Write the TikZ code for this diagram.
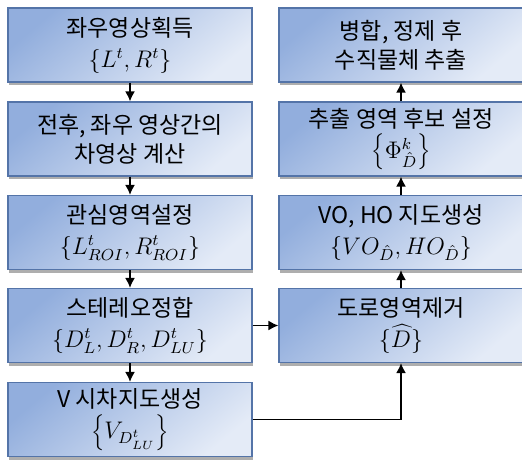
\documentclass[tikz,border=0pt]{standalone}
\usepackage[no-math]{fontspec}
\setmainfont{Noto Sans CJK KR}
\usetikzlibrary{shadows,arrows.meta}
\definecolor{boxdark}{RGB}{146,174,221}
\definecolor{boxlight}{RGB}{228,235,247}
\definecolor{boxline}{RGB}{84,116,168}
\tikzset{
  box/.style={draw=boxline, line width=0.6pt, top color=boxdark, bottom color=boxlight, shading angle=40,
    minimum width=122pt, minimum height=37pt, inner sep=0pt, align=center,
    font=\fontsize{11.5}{14.5}\selectfont,
    drop shadow={shadow xshift=0.4pt, shadow yshift=-1.6pt, opacity=0.45, fill=black!70}},
  flow/.style={line width=0.8pt, -{Latex[length=5pt,width=5pt]}}
}
\begin{document}
\begin{tikzpicture}[x=0.5pt,y=-0.5pt]
\useasboundingbox (0,0) rectangle (522,459);
\node[box] (L1) at (130,45) {좌우영상획득\\[1pt]$\{L^t,R^t\}$};
\node[box] (L2) at (130,139) {전후, 좌우 영상간의\\차영상 계산};
\node[box] (L3) at (130,232.5) {관심영역설정\\[1pt]$\{L^t_{ROI},R^t_{ROI}\}$};
\node[box] (L4) at (130,325.5) {스테레오정합\\[1pt]$\{D^t_L,D^t_R,D^t_{LU}\}$};
\node[box] (L5) at (130,419.5) {V 시차지도생성\\[1pt]$\left\{V_{D^t_{LU}}\right\}$};
\node[box] (R1) at (401,45) {병합, 정제 후\\수직물체 추출};
\node[box] (R2) at (401,139) {추출 영역 후보 설정\\[1pt]$\left\{\Phi^k_{\hat D}\right\}$};
\node[box] (R3) at (401,232.5) {VO, HO 지도생성\\[1pt]$\{VO_{\hat D},HO_{\hat D}\}$};
\node[box] (R4) at (401,325.5) {도로영역제거\\[1pt]$\{\widehat{D}\}$};
\draw[flow] (L1) -- (L2);
\draw[flow] (L2) -- (L3);
\draw[flow] (L3) -- (L4);
\draw[flow] (L4) -- (L5);
\draw[flow] (L4) -- (R4);
\draw[flow] (L5.east) -| (R4.south);
\draw[flow] (R4) -- (R3);
\draw[flow] (R3) -- (R2);
\draw[flow] (R2) -- (R1);
\end{tikzpicture}
\end{document}
